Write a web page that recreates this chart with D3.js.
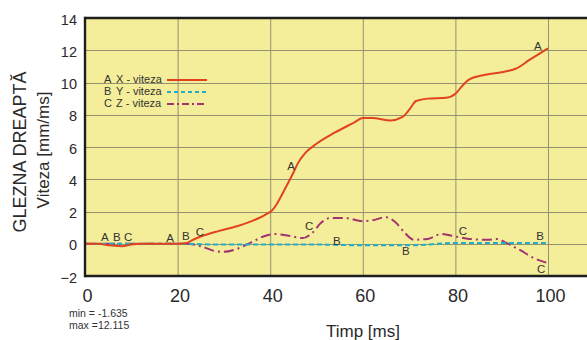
<!DOCTYPE html>
<html>
<head>
<meta charset="utf-8">
<script src="https://cdn.jsdelivr.net/npm/d3@7"></script>
<style>
  html, body { margin: 0; padding: 0; background: #fff; }
  svg { display: block; font-family: Arial, "Liberation Sans", Helvetica, sans-serif; }
</style>
</head>
<body>
<svg id="chart" width="587" height="340"></svg>
<script>
// Time axis (ms) and velocity samples for the three components
const xTicks = [0, 20, 40, 60, 80, 100];
const yTicks = [-2, 0, 2, 4, 6, 8, 10, 12, 14];

const timeX = [0, 3, 5, 8, 10, 12, 16, 20, 22, 23, 25, 29, 33, 36, 39, 40.5, 41.5, 43, 45, 46, 47.5, 50, 54, 58, 60, 62, 66, 68.5, 70, 71.5, 74, 78, 80, 81.5, 83, 86, 91, 93, 96, 100];
const velX  = [0, 0, -0.1, -0.15, -0.05, 0, 0, 0, 0.05, 0.2, 0.45, 0.8, 1.1, 1.4, 1.8, 2.1, 2.5, 3.3, 4.4, 5.0, 5.6, 6.2, 6.9, 7.5, 7.8, 7.8, 7.65, 7.85, 8.3, 8.85, 9.0, 9.05, 9.3, 9.8, 10.2, 10.45, 10.7, 10.85, 11.4, 12.115];

const timeY = [0, 20, 30, 40, 50, 60, 70, 80, 90, 100];
const velY  = [0, 0, -0.05, -0.05, -0.05, -0.1, -0.1, 0.05, 0.05, 0.05];

const timeZ = [0, 20, 22, 25, 28, 30, 33, 36, 39, 41, 44, 47, 49, 51, 53, 56, 60, 62, 65, 67, 69, 71, 74, 77, 80, 83, 87, 89, 91, 94, 97, 100];
const velZ  = [0, 0, 0, -0.15, -0.45, -0.5, -0.3, 0.1, 0.5, 0.6, 0.5, 0.35, 0.65, 1.3, 1.6, 1.6, 1.4, 1.45, 1.65, 1.35, 0.7, 0.25, 0.3, 0.6, 0.45, 0.3, 0.25, 0.3, 0.05, -0.4, -0.9, -1.2];

// Curve letters placed along the traces (time, velocity)
const markLetters = ["A", "B", "C", "A", "B", "C", "A", "A", "C", "B", "B", "C", "B", "C"];
const markTimes   = [4.3, 6.9, 9.3, 18.4, 21.8, 24.8, 44.5, 97.8, 48.4, 54.4, 69.3, 81.6, 98.3, 98.5];
const markVels    = [0.42, 0.42, 0.42, 0.35, 0.5, 0.7, 4.8, 12.25, 1.1, 0.17, -0.45, 0.8, 0.5, -1.55];

const legendLetters = ["A", "B", "C"];
const legendNames   = ["X - viteza", "Y - viteza", "Z - viteza"];

const svg = d3.select("#chart");

const x = d3.scaleLinear().domain([0, 120]).range([85, 640.6]);
const y = d3.scaleLinear().domain([-2, 14]).range([276, 18]);

const styles = [
  { color: "#e2431f", dash: null, width: 2 },
  { color: "#22aec8", dash: "5,3", width: 2 },
  { color: "#a3336f", dash: "10,4,2,4", width: 2 }
];

// plot background
svg.append("rect")
  .attr("x", x(0)).attr("y", y(14))
  .attr("width", x(120) - x(0)).attr("height", y(-2) - y(14))
  .attr("fill", "#f4ee9a");

// grid
const grid = svg.append("g").attr("stroke", "#85826a").attr("stroke-width", 1).attr("opacity", 0.85);
grid.selectAll("line.v").data([20, 40, 60, 80, 100, 120]).join("line")
  .attr("x1", d => x(d) + 0.5).attr("x2", d => x(d) + 0.5)
  .attr("y1", y(14)).attr("y2", y(-2));
grid.selectAll("line.h").data(yTicks.filter(d => d > -2 && d < 14)).join("line")
  .attr("x1", x(0)).attr("x2", x(120))
  .attr("y1", d => Math.round(y(d)) + 0.5).attr("y2", d => Math.round(y(d)) + 0.5);

// series lines (Z, Y beneath X)
const line = d3.line().curve(d3.curveMonotoneX);
function drawSeries(ts, vs, st) {
  svg.append("path")
    .attr("d", line(ts.map((t, i) => [x(t), y(vs[i])])))
    .attr("fill", "none")
    .attr("stroke", st.color)
    .attr("stroke-width", st.width)
    .attr("stroke-dasharray", st.dash)
    .attr("stroke-linejoin", "round");
}
drawSeries(timeZ, velZ, styles[2]);
drawSeries(timeY, velY, styles[1]);
drawSeries(timeX, velX, styles[0]);

// frame: left, top, bottom
const frame = svg.append("g").attr("stroke", "#1e1e1e").attr("stroke-width", 2.4);
frame.append("line").attr("x1", x(0)).attr("x2", x(0)).attr("y1", y(14) - 1.2).attr("y2", y(-2) + 1.2);
frame.append("line").attr("x1", x(0)).attr("x2", 590).attr("y1", y(14)).attr("y2", y(14));
frame.append("line").attr("x1", x(0)).attr("x2", 590).attr("y1", y(-2)).attr("y2", y(-2));

// axes via d3 axis generators, domain/ticks hidden
const yAxis = svg.append("g")
  .attr("transform", `translate(${x(0) - 8},1.5)`)
  .call(d3.axisLeft(y).tickValues(yTicks).tickSize(0).tickPadding(0));
yAxis.select(".domain").remove();
yAxis.selectAll("text")
  .attr("font-size", 14.5).attr("fill", "#2a2a2a")
  .attr("font-family", "Arial, 'Liberation Sans', sans-serif");

const xAxis = svg.append("g")
  .attr("transform", `translate(2,${y(-2) + 13})`)
  .call(d3.axisBottom(x).tickValues(xTicks).tickSize(0).tickPadding(0));
xAxis.select(".domain").remove();
xAxis.selectAll("text")
  .attr("font-size", 18).attr("fill", "#2a2a2a")
  .attr("font-family", "Arial, 'Liberation Sans', sans-serif");

// curve letters
svg.append("g").selectAll("text").data(markLetters).join("text")
  .attr("x", (d, i) => x(markTimes[i]))
  .attr("y", (d, i) => y(markVels[i]))
  .attr("text-anchor", "middle")
  .attr("dominant-baseline", "central")
  .attr("font-size", 11.5)
  .attr("fill", "#333")
  .text(d => d);

// legend
const lg = svg.append("g");
legendLetters.forEach((L, i) => {
  const cy = 79 + i * 12;
  lg.append("text").attr("x", 104).attr("y", cy).attr("dominant-baseline", "central")
    .attr("font-size", 11).attr("fill", "#333").text(L);
  lg.append("text").attr("x", 116).attr("y", cy).attr("dominant-baseline", "central")
    .attr("font-size", 11).attr("fill", "#333").text(legendNames[i]);
  lg.append("line").attr("x1", 167).attr("x2", 207).attr("y1", cy + 1).attr("y2", cy + 1)
    .attr("stroke", styles[i].color).attr("stroke-width", 2)
    .attr("stroke-dasharray", i === 1 ? "4,3" : (i === 2 ? "7,3,2,3" : null));
});

// axis titles
svg.append("text")
  .attr("transform", "translate(20,152) rotate(-90)")
  .attr("text-anchor", "middle").attr("dominant-baseline", "central")
  .attr("font-size", 18).attr("fill", "#2a2a2a")
  .text("GLEZNA DREAPTĂ");
svg.append("text")
  .attr("transform", "translate(43,150) rotate(-90)")
  .attr("text-anchor", "middle").attr("dominant-baseline", "central")
  .attr("font-size", 17).attr("fill", "#2a2a2a")
  .text("Viteza [mm/ms]");
svg.append("text")
  .attr("x", 363).attr("y", 337)
  .attr("text-anchor", "middle")
  .attr("font-size", 17).attr("fill", "#2a2a2a")
  .text("Timp [ms]");

// min / max note
svg.append("text").attr("x", 69).attr("y", 317).attr("font-size", 10.5).attr("fill", "#333").text("min = -1.635");
svg.append("text").attr("x", 69).attr("y", 329).attr("font-size", 10.5).attr("fill", "#333").text("max =12.115");
</script>
</body>
</html>
